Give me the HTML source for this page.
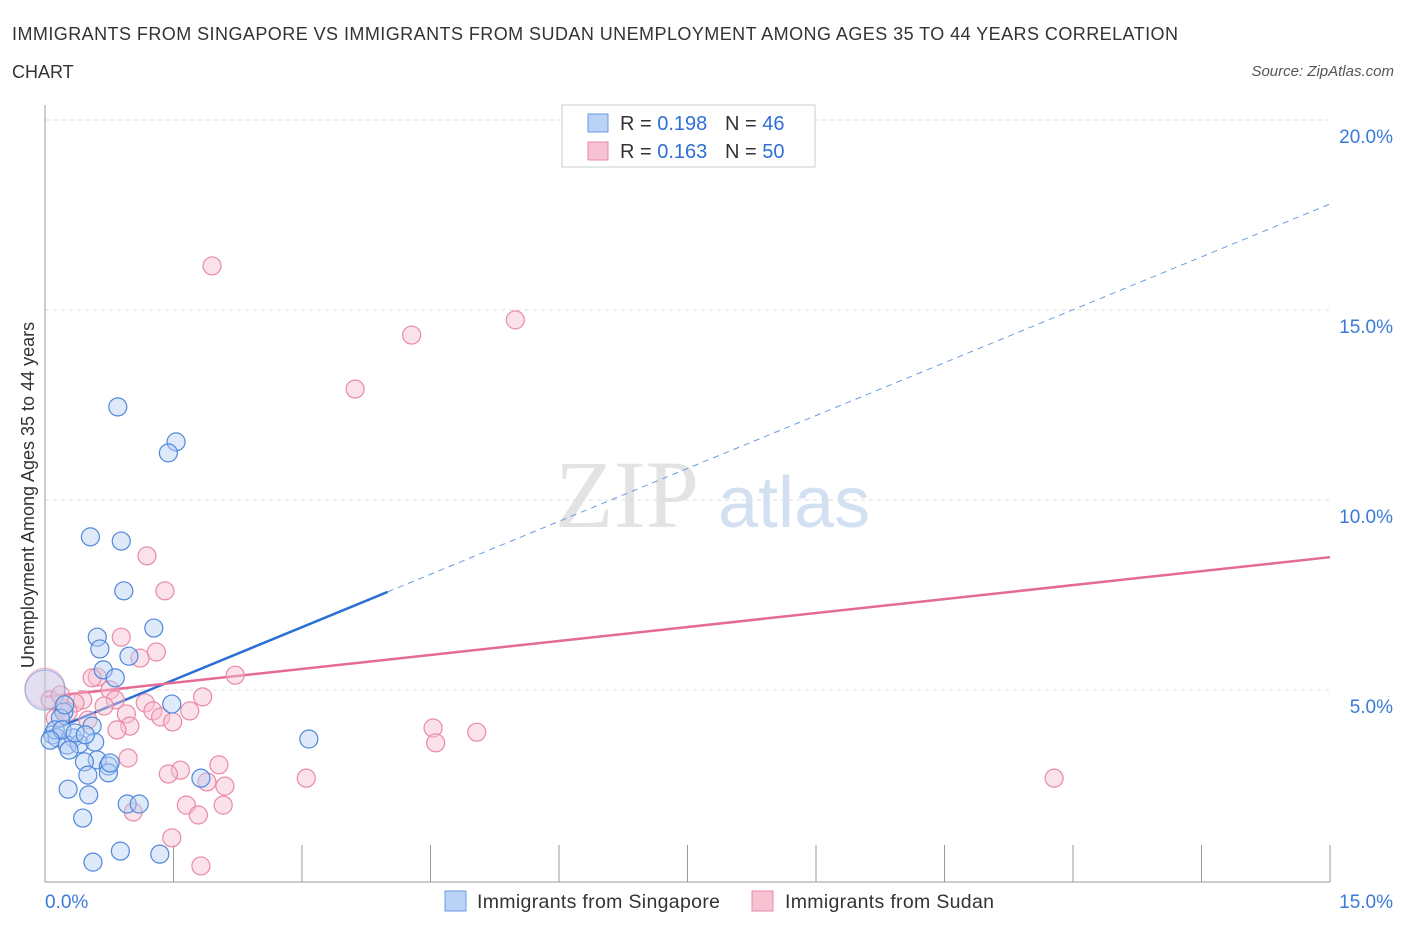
<!DOCTYPE html>
<html><head><meta charset="utf-8"><style>
body{margin:0;background:#fff;font-family:"Liberation Sans",sans-serif;}
</style></head><body>
<svg id="chart" width="1406" height="930" xmlns="http://www.w3.org/2000/svg" font-family="Liberation Sans, sans-serif">
<text x="12" y="40" font-size="18" fill="#333" textLength="1166" lengthAdjust="spacing">IMMIGRANTS FROM SINGAPORE VS IMMIGRANTS FROM SUDAN UNEMPLOYMENT AMONG AGES 35 TO 44 YEARS CORRELATION</text>
<text x="12" y="78" font-size="18" fill="#333">CHART</text>
<text x="1394" y="76" font-size="15" fill="#555" font-style="italic" text-anchor="end">Source: ZipAtlas.com</text>
<text transform="translate(34,495) rotate(-90)" font-size="18" fill="#333" text-anchor="middle">Unemployment Among Ages 35 to 44 years</text>
<text x="555" y="527" font-size="96" fill="#ddd" font-family="Liberation Serif, serif" opacity="0.8">ZIP</text>
<text x="718" y="527" font-size="72" fill="#c9d9ef" opacity="0.8">atlas</text>
<g id="grid"></g><g id="axes"></g><g id="lines"></g><g id="points"></g>
<g>
<rect x="562" y="105" width="253" height="62" fill="#fff" stroke="#ccc"/>
<rect x="588" y="114" width="20" height="18" fill="#b9d2f5" stroke="#6a9be0"/>
<text x="620" y="130" font-size="20" fill="#333">R = <tspan fill="#2f6fd6">0.198</tspan><tspan x="725">N = </tspan><tspan fill="#2f6fd6">46</tspan></text>
<rect x="588" y="142" width="20" height="18" fill="#f7c3d3" stroke="#e88aa8"/>
<text x="620" y="158" font-size="20" fill="#333">R = <tspan fill="#2f6fd6">0.163</tspan><tspan x="725">N = </tspan><tspan fill="#2f6fd6">50</tspan></text>
</g>
<g>
<rect x="445" y="891" width="21" height="20" fill="#b9d2f5" stroke="#6a9be0"/>
<text x="477" y="908" font-size="19.5" fill="#333" textLength="243">Immigrants from Singapore</text>
<rect x="752" y="891" width="21" height="20" fill="#f7c3d3" stroke="#e88aa8"/>
<text x="785" y="908" font-size="19.5" fill="#333" textLength="209">Immigrants from Sudan</text>
</g>
</svg>
<script>
const xTicks=[0,1.5,3,4.5,6,7.5,9,10.5,12,13.5,15];
const yTicks=[5,10,15,20];
const yTickLabels=["5.0%","10.0%","15.0%","20.0%"];
const singX=[0.85,1.53,1.44,0.53,0.89,0.92,1.27,0.61,0.64,0.98,0.68,0.82,1.48,3.08,0,0.22,0.18,0.55,0.09,0.14,0.33,0.26,0.40,0.28,0.61,0.46,0.74,0.50,0.27,0.51,0.96,1.10,0.44,1.82,0.56,0.88,1.34,0.74,0.12,0.20,0.35,0.58,0.76,0.23,0.06,0.47];
const singY=[12.45,11.53,11.24,9.03,8.92,7.61,6.63,6.39,6.08,5.89,5.53,5.32,4.63,3.71,5.0,4.42,4.26,4.05,3.82,3.74,3.74,3.55,3.58,3.42,3.16,3.11,3.00,2.76,2.39,2.24,2.00,2.00,1.63,2.68,0.47,0.76,0.68,2.82,3.95,3.95,3.87,3.63,3.08,4.61,3.68,3.82];
const sudX=[1.95,5.49,4.28,3.62,1.19,1.40,0.89,1.30,1.11,2.22,0.61,0.55,0.76,0.44,1.84,1.17,0.35,0.82,1.26,0.20,1.69,1.35,0.95,0.99,0.84,1.49,0.69,4.53,5.04,4.56,0,0.12,0.27,0.97,2.03,1.58,1.44,3.05,11.78,1.89,2.10,1.65,2.08,1.79,1.03,1.48,1.82,0.06,0.50,0.18];
const sudY=[16.16,14.74,14.34,12.92,8.53,7.61,6.39,6.00,5.84,5.39,5.34,5.32,5.00,4.74,4.82,4.66,4.66,4.74,4.45,4.53,4.45,4.29,4.37,4.05,3.95,4.16,4.58,4.00,3.89,3.61,5.05,4.26,4.42,3.21,3.03,2.89,2.79,2.68,2.68,2.58,2.47,1.97,1.97,1.71,1.79,1.11,0.37,4.74,4.21,4.87];
const singFit=[3.87,0.928,4.0];
const sudFit=[4.82,0.245];
const NS="http://www.w3.org/2000/svg";
const X=v=>45+v/15*1285, Y=v=>880-v*38;
function mk(p,t,a){const e=document.createElementNS(NS,t);for(const k in a)e.setAttribute(k,a[k]);document.getElementById(p).appendChild(e);return e;}
yTicks.forEach((t,i)=>{
 const g=mk('grid','line',{x1:45,x2:1330,y1:Y(t),y2:Y(t),stroke:'#ddd','stroke-dasharray':'4,4'});
 
 
 const l=mk('grid','text',{x:1393,y:Y(t)+23,'font-size':19,fill:'#3a7ad8','text-anchor':'end'});l.textContent=yTickLabels[i];
 
 
});
mk('axes','line',{x1:45,x2:45,y1:105,y2:882,stroke:'#999'});
mk('axes','line',{x1:45,x2:1330,y1:882,y2:882,stroke:'#999'});
xTicks.forEach(t=>{const e=mk('axes','line',{x1:X(t),x2:X(t),y1:845,y2:882,stroke:'#999'});
 
 });
let a=mk('axes','text',{x:45,y:908,'font-size':19,fill:'#3a7ad8'});a.textContent="0.0%";


a=mk('axes','text',{x:1393,y:908,'font-size':19,fill:'#3a7ad8','text-anchor':'end'});a.textContent="15.0%";


let ln=mk('lines','line',{x1:X(0),y1:Y(singFit[0]),x2:X(singFit[2]),y2:Y(singFit[0]+singFit[1]*singFit[2]),stroke:'#2a6fd6','stroke-width':2.5});


ln=mk('lines','line',{x1:X(singFit[2]),y1:Y(singFit[0]+singFit[1]*singFit[2]),x2:X(15),y2:Y(singFit[0]+singFit[1]*15),stroke:'#6a9be0','stroke-width':1,'stroke-dasharray':'6,5'});


ln=mk('lines','line',{x1:X(0),y1:Y(sudFit[0]),x2:X(15),y2:Y(sudFit[0]+sudFit[1]*15),stroke:'#e36b95','stroke-width':2.5});


function pts(xs,ys,fill,stroke,name){xs.forEach((x,i)=>{const big=x===0;
 const c=mk('points','circle',{cx:X(x),cy:Y(ys[i]),r:big?20:9,fill:fill,'fill-opacity':big?0.35:0.45,stroke:stroke,'stroke-width':1.2,'stroke-opacity':big?0.5:1});
 
 });}
pts(sudX,sudY,'#f7bfd0','#e88aa8','sudan-point');
pts(singX,singY,'#b5cff3','#4f88da','singapore-point');
</script>
</body></html>
